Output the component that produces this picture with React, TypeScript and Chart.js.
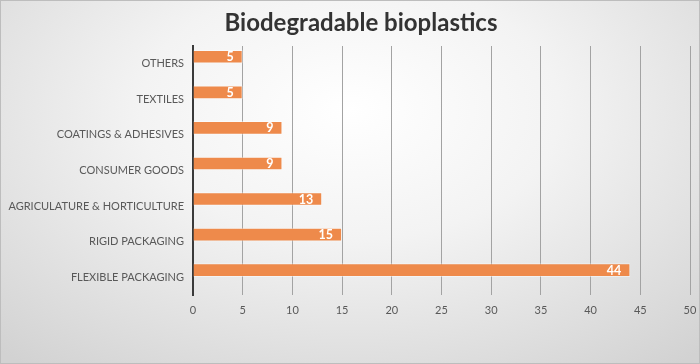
import React, { useEffect, useRef } from "react";
import { Chart, registerables } from "chart.js";

Chart.register(...registerables);

const TITLE = "Biodegradable bioplastics";
const categories = [
  "OTHERS",
  "TEXTILES",
  "COATINGS & ADHESIVES",
  "CONSUMER GOODS",
  "AGRICULATURE & HORTICULTURE",
  "RIGID PACKAGING",
  "FLEXIBLE PACKAGING",
];
const values = [5, 5, 9, 9, 13, 15, 44];
const xMin = 0;
const xMax = 50;
const xStep = 5;

const FONT = "Lato, 'Open Sans', sans-serif";

const titlePlugin = {
  id: "customTitle",
  afterDraw(chart: any) {
    const ctx = chart.ctx;
    ctx.save();
    ctx.font = `bold 24px ${FONT}`;
    ctx.fillStyle = "#333333";
    ctx.textAlign = "center";
    ctx.textBaseline = "middle";
    ctx.fillText(TITLE, chart.width / 2 + 11, 22);
    ctx.restore();
  },
};

const labelPlugin = {
  id: "barLabels",
  afterDatasetsDraw(chart: any) {
    const ctx = chart.ctx;
    const meta = chart.getDatasetMeta(0);
    ctx.save();
    ctx.font = `bold 12.5px ${FONT}`;
    ctx.fillStyle = "#ffffff";
    ctx.textAlign = "right";
    ctx.textBaseline = "middle";
    meta.data.forEach((el: any, i: number) => {
      ctx.fillText(String(values[i]), el.x - 9, el.y + 0.5);
    });
    ctx.restore();
  },
};

export default function App() {
  const ref = useRef<HTMLCanvasElement | null>(null);

  useEffect(() => {
    document.body.style.margin = "0";
    if (!ref.current) return;
    const chart = new Chart(ref.current, {
      type: "bar",
      data: {
        labels: categories,
        datasets: [
          {
            label: "Biodegradable bioplastics",
            data: values,
            backgroundColor: "#EE8A4B",
            borderColor: "rgba(255,255,255,0.45)",
            borderWidth: 1,
            categoryPercentage: 0.79,
            barPercentage: 0.97,
          },
          {
            label: "",
            data: [],
            categoryPercentage: 0.79,
            barPercentage: 0.97,
          },
        ],
      },
      options: {
        indexAxis: "y",
        animation: false,
        responsive: true,
        maintainAspectRatio: false,
        layout: { padding: { top: 45, right: 0, left: 0, bottom: 0 } },
        plugins: {
          legend: { display: false },
          title: { display: false },
          tooltip: { enabled: false },
        },
        scales: {
          x: {
            min: xMin,
            max: xMax,
            ticks: {
              stepSize: xStep,
              color: "#595959",
              font: { family: FONT, size: 11 },
              padding: 9,
            },
            grid: { color: "#a3a3a3", lineWidth: 1, drawTicks: false },
            border: { display: false },
            afterFit(scale: any) {
              scale.height = 68;
              scale.paddingLeft = 0;
              scale.paddingRight = 9;
            },
          },
          y: {
            ticks: {
              color: "#595959",
              font: { family: FONT, size: 11 },
              padding: 9,
            },
            grid: { display: false, drawTicks: false },
            border: { display: true, color: "#3a3a3a", width: 2 },
            afterFit(scale: any) {
              scale.width = 192;
            },
          },
        },
      },
      plugins: [titlePlugin, labelPlugin],
    } as any);
    return () => chart.destroy();
  }, []);

  return (
    <div
      style={{
        width: 700,
        height: 364,
        boxSizing: "border-box",
        border: "1px solid #bdbdbd",
        background:
          "radial-gradient(ellipse 75% 90% at 50% 30%, #ffffff 0%, #f3f3f3 40%, #d2d2d2 100%)",
        position: "relative",
      }}
    >
      <canvas ref={ref} />
    </div>
  );
}
